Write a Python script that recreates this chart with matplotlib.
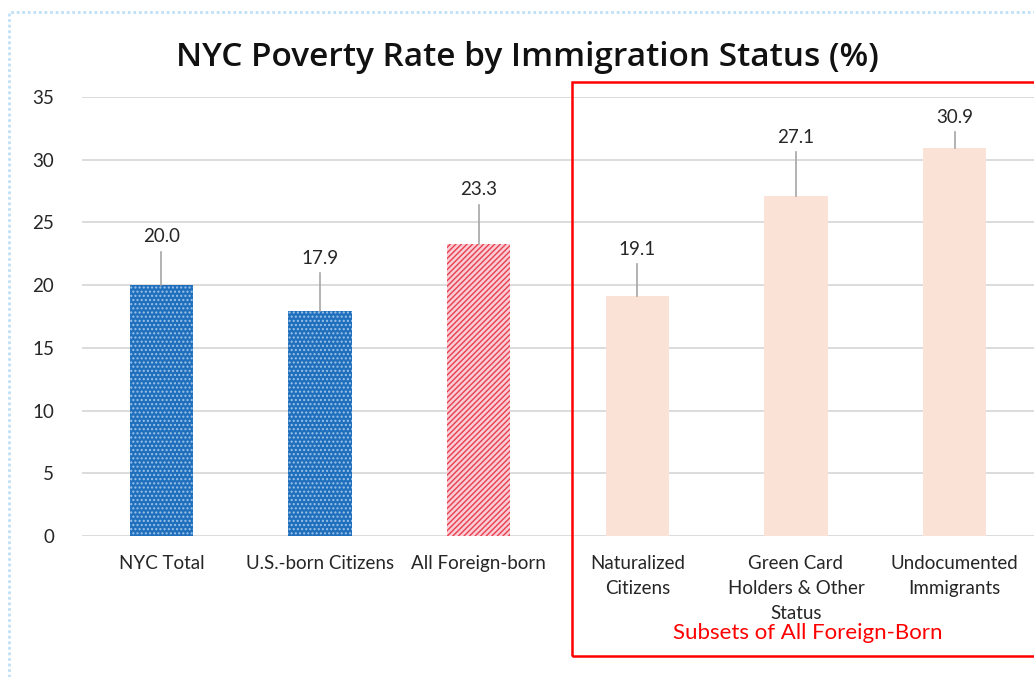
import numpy as np
import matplotlib
matplotlib.use("Agg")
import matplotlib.pyplot as plt
from matplotlib.patches import Rectangle

#%% data
categories = ["NYC Total", "U.S.-born Citizens", "All Foreign-born",
              "Naturalized\nCitizens", "Green Card\nHolders & Other\nStatus",
              "Undocumented\nImmigrants"]
rates = [20.0, 17.9, 23.3, 19.1, 27.1, 30.9]
y_ticks = [0, 5, 10, 15, 20, 25, 30, 35]

# label offsets above bar top (data units)
label_offsets = [3.85, 4.25, 4.3, 3.75, 4.7, 2.5]

#%% style
plt.rcParams['font.family'] = ['Lato', 'DejaVu Sans']
blue = '#1f6fbd'
peach = '#fae3d6'
grid_c = '#d9d9d9'
plt.rcParams['hatch.linewidth'] = 1.0

fig = plt.figure(figsize=(10.34, 6.77), dpi=100)
ax = fig.add_axes([82/1034, 141/677, 952/1034, 439/677])

x = np.arange(len(categories))
w = 0.4

styles = [
    dict(facecolor=blue, edgecolor='#9cc3e8', hatch='....'),
    dict(facecolor=blue, edgecolor='#9cc3e8', hatch='....'),
    dict(facecolor='#f9ccd6', edgecolor='#e8404e', hatch='//////'),
    dict(facecolor=peach, edgecolor=peach),
    dict(facecolor=peach, edgecolor=peach),
    dict(facecolor=peach, edgecolor=peach),
]
for xi, v, st in zip(x, rates, styles):
    ax.bar(xi, v, width=w, linewidth=0, zorder=3, **st)

for xi, v, off in zip(x, rates, label_offsets):
    ax.plot([xi, xi], [v, v + off - 1.2], color='#a6a6a6', lw=1.2, zorder=4)
    ax.text(xi, v + off, f"{v:.1f}", ha='center', va='center',
            fontsize=13.5, color='#262626')

ax.set_xlim(-0.5, 5.5)
ax.set_ylim(0, 35)
ax.set_yticks(y_ticks)
ax.set_yticklabels([str(t) for t in y_ticks], fontsize=13.5, color='#262626')
ax.set_xticks(x)
ax.set_xticklabels(categories, fontsize=13.5, color='#262626',
                   linespacing=1.55, va='top')
ax.tick_params(axis='both', length=0)
ax.tick_params(axis='y', pad=20)
ax.tick_params(axis='x', pad=14)
ax.yaxis.grid(True, color=grid_c, lw=1.3, zorder=0)
ax.set_axisbelow(True)
for s in ax.spines.values():
    s.set_visible(False)

# title
fig.text(527/1034, 1 - 58/677, "NYC Poverty Rate by Immigration Status (%)",
         ha='center', va='center', fontsize=24, fontweight='semibold',
         family=['Open Sans', 'DejaVu Sans'], color='#111111')

# red box round the subsets
fig.patches.append(Rectangle((572/1034, 21/677), 0.5, 574/677,
                             transform=fig.transFigure, fill=False,
                             edgecolor='#ff0000', lw=1.8, clip_on=False))
fig.text(808/1034, 1 - 633/677, "Subsets of All Foreign-Born", ha='center',
         va='center', fontsize=16, color='#ff0000')

# dotted chart-area border
fig.add_artist(plt.Line2D([9/1034, 9/1034, 1.0], [0, 1 - 12/677, 1 - 12/677],
                          transform=fig.transFigure, color='#bfe0f7', lw=2,
                          linestyle=(0, (1, 1))))

fig.savefig("out.png", dpi=100)
